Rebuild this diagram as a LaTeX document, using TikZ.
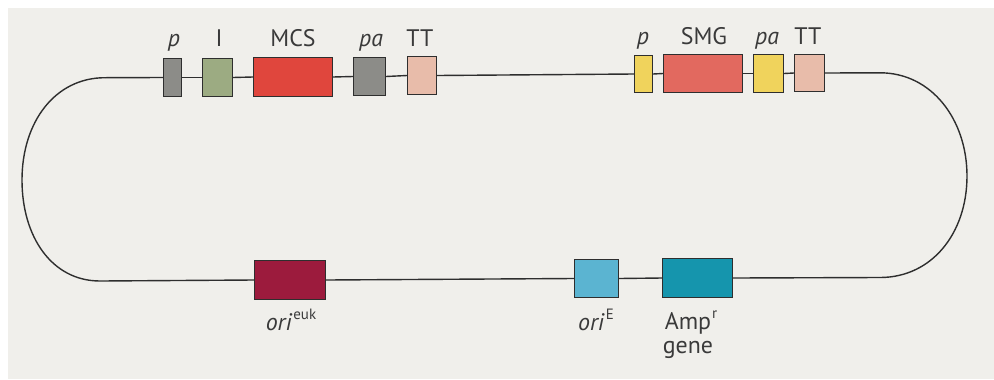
\documentclass[tikz,border=0pt]{standalone}
\usepackage{fontspec}
\setmainfont{PT Sans}
\definecolor{bgc}{HTML}{F0EFEB}
\definecolor{linec}{HTML}{2E2E2E}
\definecolor{txtc}{HTML}{3A3A3A}
\definecolor{grayc}{HTML}{8C8C88}
\definecolor{sagec}{HTML}{9CAB82}
\definecolor{mcsc}{HTML}{E0463D}
\definecolor{pinkc}{HTML}{E8BCAA}
\definecolor{yelc}{HTML}{F0D35C}
\definecolor{smgc}{HTML}{E2695F}
\definecolor{eukc}{HTML}{9C1B3D}
\definecolor{oriec}{HTML}{5BB4D1}
\definecolor{ampc}{HTML}{1595AD}
\newcommand{\upsc}[1]{\kern1bp\raisebox{0.42em}{\fontsize{15}{15}\selectfont\upshape #1}}
\begin{document}
\begin{tikzpicture}[x=1bp,y=-1bp,
  box/.style={draw=linec, line width=1.2bp, inner sep=0pt},
  lab/.style={anchor=base, inner sep=0pt, text=txtc, font=\fontsize{24}{24}\selectfont},
  strand/.style={draw=linec, line width=1.4bp, line join=round}]
\useasboundingbox (0,0) rectangle (994,379);
\fill[white] (0,0) rectangle (994,379);
\fill[bgc] (8,8) rectangle (994,379);
% boxes
\node[box, fill=grayc, minimum width=17.8bp, minimum height=37.8bp] (p1) at (172.5,77.5) {};
\node[box, fill=sagec, minimum width=29.8bp, minimum height=37.8bp] (i1) at (217.5,77.5) {};
\node[box, fill=mcsc, minimum width=78.8bp, minimum height=38.8bp] (mcs) at (293,77) {};
\node[box, fill=grayc, minimum width=31.8bp, minimum height=37.8bp] (pa1) at (369.5,76.5) {};
\node[box, fill=pinkc, minimum width=28.8bp, minimum height=37.8bp] (tt1) at (422,75.5) {};
\node[box, fill=yelc, minimum width=17.8bp, minimum height=36.8bp] (p2) at (643.5,74) {};
\node[box, fill=smgc, minimum width=78.8bp, minimum height=37.8bp] (smg) at (703,73.5) {};
\node[box, fill=yelc, minimum width=29.8bp, minimum height=37.8bp] (pa2) at (768.5,73.5) {};
\node[box, fill=pinkc, minimum width=29.8bp, minimum height=36.8bp] (tt2) at (809.5,73) {};
\node[box, fill=eukc, minimum width=70.8bp, minimum height=38.8bp] (euk) at (290,280) {};
\node[box, fill=oriec, minimum width=43.8bp, minimum height=37.8bp] (orie) at (596.5,278.5) {};
\node[box, fill=ampc, minimum width=69.8bp, minimum height=38.8bp] (amp) at (697.5,278) {};
% loop coordinates
\coordinate (tl) at (105,77.7);
\coordinate (tr) at (880,72.8);
\coordinate (rr) at (967,176);
\coordinate (br) at (880,277.5);
\coordinate (bl) at (100,281);
\coordinate (ll) at (22,180);
% strand
\draw[strand] (tl) -- (p1.west);
\draw[strand] (p1.east) -- (i1.west);
\draw[strand] (i1.east) -- (mcs.west);
\draw[strand] (mcs.east) -- (pa1.west);
\draw[strand] (pa1.east) -- (tt1.west);
\draw[strand] (tt1.east) -- (p2.west);
\draw[strand] (p2.east) -- (smg.west);
\draw[strand] (smg.east) -- (pa2.west);
\draw[strand] (pa2.east) -- (tt2.west);
\draw[strand] (tt2.east) -- (tr) .. controls (932,72.8) and (967,120) .. (rr)
   .. controls (967,233) and (932,277.5) .. (br) -- (amp.east);
\draw[strand] (amp.west) -- (orie.east);
\draw[strand] (orie.west) -- (euk.east);
\draw[strand] (euk.west) -- (bl) .. controls (52,281) and (22,237) .. (ll)
   .. controls (22,122) and (55,77.7) .. (tl);
% labels
\node[lab] (lp1) at (174,46) {\itshape p};
\node[lab] (li1) at (219,46) {I};
\node[lab] (lmcs) at (293,46) {MCS};
\node[lab] (lpa1) at (371,46) {\itshape pa};
\node[lab] (ltt1) at (420,46) {TT};
\node[lab] (lp2) at (643,44) {\itshape p};
\node[lab] (lsmg) at (704,44) {SMG};
\node[lab] (lpa2) at (767,44) {\itshape pa};
\node[lab] (ltt2) at (808,44) {TT};
\node[lab] (leuk) at (291,330) {{\itshape ori\/}\upsc{euk}};
\node[lab] (lorie) at (596,330) {{\itshape ori\/}\upsc{E}};
\node[lab] (lamp) at (691,329) {Amp\upsc{r}};
\node[lab] (lgene) at (688,353) {gene};
\end{tikzpicture}
\end{document}
